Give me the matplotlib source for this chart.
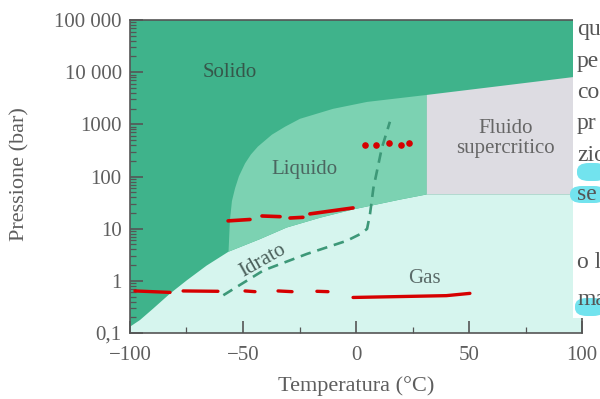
import matplotlib
matplotlib.use("Agg")
import matplotlib.pyplot as plt
from matplotlib.patches import Polygon, Rectangle, FancyBboxPatch
from matplotlib.ticker import NullFormatter
import numpy as np

plt.rcParams['font.family'] = ['Liberation Serif', 'DejaVu Serif']

# curva di sublimazione / evaporazione (T in °C, P in bar)
vap_T = [-100, -95.6, -89.7, -82.3, -74.9, -66.1, -56.4, -42.5, -30.7, -15.9, -1.2, 19.5, 31.3]
vap_P = [0.132, 0.177, 0.295, 0.569, 1.02, 1.96, 3.62, 6.3, 10.5, 16.2, 23.4, 36.1, 45.3]

# curva di fusione
melt_T = [-56.4, -55.8, -54.9, -53.5, -51.8, -49.1, -46.5, -43.4, -37.2, -31.4, -24.8, -10.2, 4.9,
          31.3, 63.7, 96.0, 100]
melt_P = [3.62, 14.1, 33.8, 59.7, 101, 178, 264, 375, 634, 900, 1276, 1980, 2690,
          3660, 5420, 8040, 8400]

# punto critico / triplo
crit_T, crit_P = 31.3, 45.3
tp_T = -56.4

# curva dell'idrato (tratteggiata)
hyd_T = [-58.7, -41.0, -21.8, -4.1, 1.8, 4.9, 6.2, 7.7, 11.4, 15.0]
hyd_P = [0.53, 1.58, 3.27, 5.86, 7.85, 9.9, 19.1, 60, 348, 1120]

# segni a penna rossi
red_low_T = [-97.8, -82.3, -76.5, -61.1, -49.1, -44.7, -34.5, -28.3, -17.3, -12.4]
red_low_P = [0.64, 0.60, 0.64, 0.63, 0.64, 0.62, 0.64, 0.62, 0.63, 0.62]
red_mid_T = [-56.6, -46.9, -41.6, -33.6, -29.2, -23.5, -20.4, -1.3]
red_mid_P = [14.1, 15.0, 17.5, 17.0, 16.0, 16.5, 19.2, 25.0]
red_line_T = [-1.3, 20, 40, 50.4]
red_line_P = [0.48, 0.50, 0.52, 0.575]
red_dot_T = [4.0, 8.8, 14.6, 19.9, 23.5]
red_dot_P = [410, 410, 445, 410, 445]

y_ticks = [0.1, 1, 10, 100, 1000, 10000, 100000]
y_labels = ["0,1", "1", "10", "100", "1000", "10 000", "100 000"]
x_ticks = [-100, -50, 0, 50, 100]
x_labels = ["\u2212100", "\u221250", "0", "50", "100"]

# testo della pagina a destra
side_words = ["qu", "pe", "co", "pr", "zio", "se", "o l", "ma"]
side_base = [35, 67, 98, 129, 161, 200, 268, 305]

col_solid = "#3fb38b"
col_liq = "#7cd2b2"
col_gas = "#d6f5ee"
col_sc = "#dddce2"

fig = plt.figure(figsize=(6, 3.99), dpi=100)
ax = fig.add_axes([130/600, 1-333/399, 452/600, 313/399])
ax.set_yscale('log')
ax.set_xlim(-100, 100)
ax.set_ylim(0.1, 1e5)
ax.set_facecolor(col_solid)

vT = np.array(vap_T); vP = np.array(vap_P)
mT = np.array(melt_T); mP = np.array(melt_P)

# gas
gas = list(zip(vap_T, vap_P)) + [(100, crit_P), (100, 0.1), (-100, 0.1)]
ax.add_patch(Polygon(gas, closed=True, fc=col_gas, ec='none', zorder=1))

# liquido
m = mT <= crit_T
v = vT >= tp_T
liq = list(zip(mT[m], mP[m])) + [(crit_T, crit_P)] + list(zip(vT[v][::-1], vP[v][::-1]))
ax.add_patch(Polygon(liq, closed=True, fc=col_liq, ec='none', zorder=1))

# fluido supercritico
m2 = mT >= crit_T
sc = [(crit_T, crit_P)] + list(zip(mT[m2], mP[m2])) + [(100, crit_P)]
ax.add_patch(Polygon(sc, closed=True, fc=col_sc, ec='none', zorder=1))

ax.plot(hyd_T, hyd_P, color="#3d9878", lw=1.9, dashes=(4, 2.6), zorder=2)

txt = dict(ha='center', va='center', fontsize=15, zorder=3)
ax.text(-56, 1e4, "Solido", color="#35574a", **txt)
ax.text(-22.6, 138, "Liquido", color="#4b6660", **txt)
ax.text(66, 540, "Fluido\nsupercritico", color="#666666", linespacing=1.05, **txt)
ax.text(30.5, 1.11, "Gas", color="#5b6b69", **txt)
ax.text(-41, 2.45, "Idrato", color="#4a5f5a", rotation=29.5, **txt)

# segni rossi
red = "#d60000"
for i in range(0, len(red_low_T), 2):
    ax.plot(red_low_T[i:i+2], red_low_P[i:i+2], color=red, lw=2.4, solid_capstyle='round', zorder=4)
for i in range(0, len(red_mid_T), 2):
    ax.plot(red_mid_T[i:i+2], red_mid_P[i:i+2], color=red, lw=2.6, solid_capstyle='round', zorder=4)
ax.plot(red_line_T, red_line_P, color=red, lw=2.4, solid_capstyle='round', zorder=4)
ax.scatter(red_dot_T, red_dot_P, s=14, color=red, zorder=4)

ax.set_yticks(y_ticks, y_labels)
ax.yaxis.set_minor_formatter(NullFormatter())
ax.set_xticks(x_ticks, x_labels)
ax.set_xticks([-75, -25, 25, 75], minor=True)
ax.tick_params(which='both', direction='in', color='#555555', right=False, top=False)
ax.tick_params(which='major', length=9, width=1.2, labelsize=15, labelcolor='#5e5e5e')
ax.tick_params(which='minor', length=4, width=0.9)
ax.tick_params(axis='y', pad=6)
ax.tick_params(axis='x', pad=9)
for s in ax.spines.values():
    s.set_color('#555555')
    s.set_linewidth(1.2)
    s.set_zorder(5)

fig.text(20/600, 1-174/399, "Pressione (bar)", rotation=90, ha='center', va='center',
         fontsize=16, color='#5e5e5e')
fig.text(356/600, 1-386/399, "Temperatura (°C)", ha='center', va='center',
         fontsize=16, color='#5e5e5e')

# colonna di testo della pagina
fig.add_artist(Rectangle((573/600, 1-318/399), 1-573/600, 318/399, transform=fig.transFigure,
                         fc='white', ec='none', zorder=10))
for (x0, y0, w, h) in [(577, 181, 30, 18), (570, 203, 36, 17), (575, 316, 30, 18)]:
    fig.add_artist(FancyBboxPatch((x0/600, 1-y0/399), w/600, h/399, boxstyle="round,pad=0,rounding_size=0.02",
                                  transform=fig.transFigure, fc='#72e3ee', ec='none', zorder=11))
for w, b in zip(side_words, side_base):
    fig.text(577/600, 1-b/399, w, ha='left', va='baseline', fontsize=17, color='#555555', zorder=12)

fig.savefig("out.png", dpi=100)
